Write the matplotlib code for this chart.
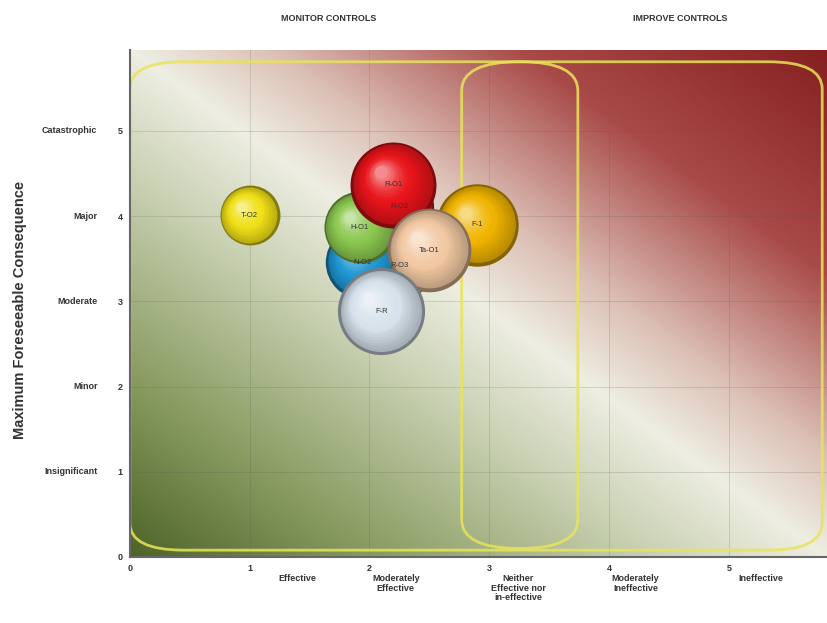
import numpy as np
import matplotlib
matplotlib.use("Agg")
import matplotlib.pyplot as plt
from matplotlib.colors import LinearSegmentedColormap, to_rgb
from matplotlib.patches import FancyBboxPatch
from matplotlib.transforms import offset_copy

# --- data ---
labels = ["R-O2", "R-O3", "N-O2", "H-O1", "R-O1", "F-1", "Ta-O1", "F-R", "T-O2"]
effect = [2.25, 2.25, 1.94, 1.92, 2.20, 2.90, 2.50, 2.10, 1.00]     # x: control effectiveness
consequence = [4.11, 3.42, 3.46, 3.87, 4.37, 3.90, 3.60, 2.88, 4.01]  # y: max consequence
weight = [12.0, 12.0, 13.5, 13.0, 18.5, 17.0, 17.5, 19.0, 9.0]       # bubble size value
colors = ["#e01818", "#e8b088", "#1e96d2", "#8cc850", "#e8141a",
          "#f0b400", "#f2c8a2", "#d6e2ec", "#f0e018"]

y_ticks = [0, 1, 2, 3, 4, 5]
y_names = ["", "Insignificant", "Minor", "Moderate", "Major", "Catastrophic"]
x_ticks = [0, 1, 2, 3, 4, 5]
x_names = ["Effective", "Moderately\nEffective", "Neither\nEffective nor\nin-effective",
           "Moderately\nIneffective", "Ineffective"]
x_name_pos = [1.40, 2.22, 3.24, 4.22, 5.27]

plt.rcParams["font.family"] = ["Liberation Sans", "DejaVu Sans"]

fig = plt.figure(figsize=(8.27, 6.23), dpi=100)
ax = fig.add_axes([0.157, 0.106, 0.843, 0.814])
xmax, ymax = 5.82, 5.95
ax.set_xlim(0, xmax)
ax.set_ylim(0, ymax)

# diagonal background gradient: green (bottom-left) -> white -> red (top-right)
cmap = LinearSegmentedColormap.from_list("risk", [
    (0.0, "#4e6428"), (0.18, "#8a9c62"), (0.38, "#cad2b4"), (0.5, "#eeeee2"),
    (0.6, "#dcc0b6"), (0.78, "#a84a48"), (1.0, "#862020")])
u, v = np.meshgrid(np.linspace(0, 1, 300), np.linspace(0, 1, 300))
ax.imshow((u + v) / 2, cmap=cmap, extent=[0, xmax, 0, ymax], origin="lower",
          aspect="auto", zorder=0, vmin=0, vmax=1)

for g in range(1, 6):
    ax.axvline(g, color="#555555", lw=0.6, alpha=0.22, zorder=1)
    ax.axhline(g, color="#555555", lw=0.6, alpha=0.22, zorder=1)

# yellow rounded zones (aspect-corrected corners)
asp = (0.814 * 6.23 / ymax) / (0.843 * 8.27 / xmax)
zone_kw = dict(fill=False, ec="#e8e45a", lw=2.0, alpha=0.85, zorder=2,
               mutation_aspect=asp)
ax.add_patch(FancyBboxPatch((0.0, 0.08), 5.78, 5.73,
                            boxstyle="round,pad=0,rounding_size=0.45", **zone_kw))
ax.add_patch(FancyBboxPatch((2.77, 0.10), 0.97, 5.71,
                            boxstyle="round,pad=0,rounding_size=0.48", **zone_kw))

# shaded "3D" bubbles
n_layers = 18
for i, (x, y, w, c) in enumerate(zip(effect, consequence, weight, colors)):
    base = np.array(to_rgb(c))
    s = w * 207
    r_pt = np.sqrt(s) / 2
    z = 3 + i
    ax.scatter([x], [y], s=s, color=base * 0.55, zorder=z, lw=0)
    for k in range(1, n_layers):
        f = k / n_layers
        if f < 0.45:
            col = base * (0.75 + 0.25 * f / 0.45)
        else:
            t = (f - 0.45) / 0.55
            col = base + (np.ones(3) - base) * 0.6 * t ** 1.5
        scale = 1 - 0.9 * f
        tr = offset_copy(ax.transData, fig=fig, x=-0.3 * r_pt * f,
                         y=0.3 * r_pt * f, units="points")
        ax.scatter([x], [y], s=s * scale ** 2 * 0.96, color=np.clip(col, 0, 1),
                   zorder=z, lw=0, transform=tr)

for lab, x, y in zip(labels, effect, consequence):
    ax.text(x, y, lab, ha="center", va="center", fontsize=5.5,
            color="#333333", zorder=20)

# axes styling
for side in ["top", "right"]:
    ax.spines[side].set_visible(False)
ax.spines["left"].set_color("#666666")
ax.spines["bottom"].set_color("#666666")
ax.spines["left"].set_linewidth(1.5)
ax.spines["bottom"].set_linewidth(1.5)
ax.set_yticks(y_ticks)
ax.set_yticklabels([str(t) for t in y_ticks], fontsize=6.5, fontweight="bold", color="#333333")
ax.set_xticks(x_ticks)
ax.set_xticklabels([str(t) for t in x_ticks], fontsize=6.5, fontweight="bold", color="#333333")
ax.tick_params(length=0, pad=5)

for yt, name in zip(y_ticks, y_names):
    ax.text(-0.27, yt, name, ha="right", va="center", fontsize=6.5,
            fontweight="bold", color="#333333", clip_on=False)
for xp, name in zip(x_name_pos, x_names):
    ax.text(xp, -0.2, name, ha="center", va="top", fontsize=6.5,
            fontweight="bold", color="#333333", linespacing=1.1, clip_on=False)

ax.set_ylabel("Maximum Foreseeable Consequence", fontsize=10.5, fontweight="bold",
              color="#333333")
ax.yaxis.set_label_coords(-0.148, 0.487)

fig.text(0.397, 0.971, "MONITOR CONTROLS", ha="center", va="center", fontsize=6.5,
         fontweight="bold", color="#333333")
fig.text(0.823, 0.971, "IMPROVE CONTROLS", ha="center", va="center", fontsize=6.5,
         fontweight="bold", color="#333333")

fig.savefig("out.png", dpi=100)
